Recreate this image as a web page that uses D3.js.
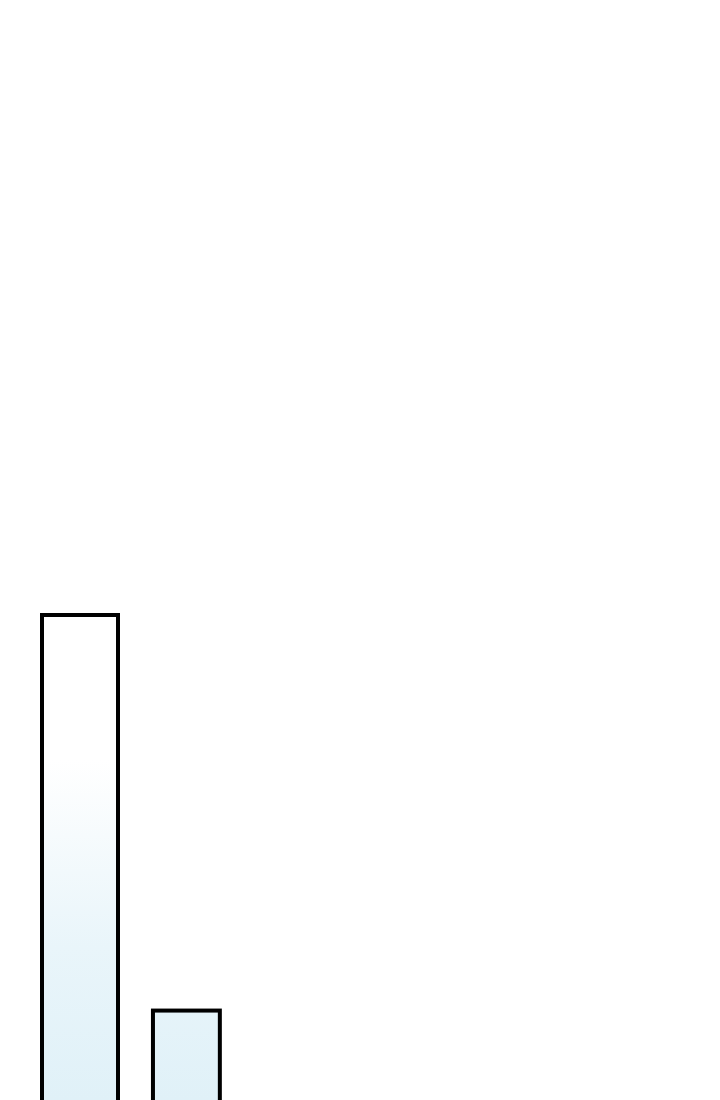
<!DOCTYPE html>
<html>
<head>
<meta charset="utf-8">
<script src="https://cdn.jsdelivr.net/npm/d3@7"></script>
<style>
  html, body { margin: 0; padding: 0; background: #ffffff; }
  svg { display: block; }
</style>
</head>
<body>
<svg id="chart" width="720" height="1100"></svg>
<script>
// Data
const categories = ["A", "B"];
const binStart = [0, 14.6];
const binEnd = [10, 23.4];
const values = [98, 20];

const svg = d3.select("#chart");

const x = d3.scaleLinear().domain([0, 100]).range([42, 802]);
const y = d3.scaleLinear().domain([0, 98]).range([1112, 615]);

const defs = svg.append("defs");
const grad = defs.append("linearGradient")
  .attr("id", "barFill")
  .attr("gradientUnits", "userSpaceOnUse")
  .attr("x1", 0).attr("y1", 760)
  .attr("x2", 0).attr("y2", 1100);
grad.append("stop").attr("offset", "0%").attr("stop-color", "#ffffff");
grad.append("stop").attr("offset", "55%").attr("stop-color", "#e9f5fa");
grad.append("stop").attr("offset", "100%").attr("stop-color", "#e0f1f8");

const data = categories.map((c, i) => ({ c, x0: binStart[i], x1: binEnd[i], v: values[i] }));

svg.append("g").selectAll("rect")
  .data(data)
  .join("rect")
  .attr("x", d => x(d.x0))
  .attr("y", d => y(d.v))
  .attr("width", d => x(d.x1) - x(d.x0))
  .attr("height", d => y(0) - y(d.v))
  .attr("fill", "url(#barFill)")
  .attr("stroke", "#000000")
  .attr("stroke-width", 4);
</script>
</body>
</html>
